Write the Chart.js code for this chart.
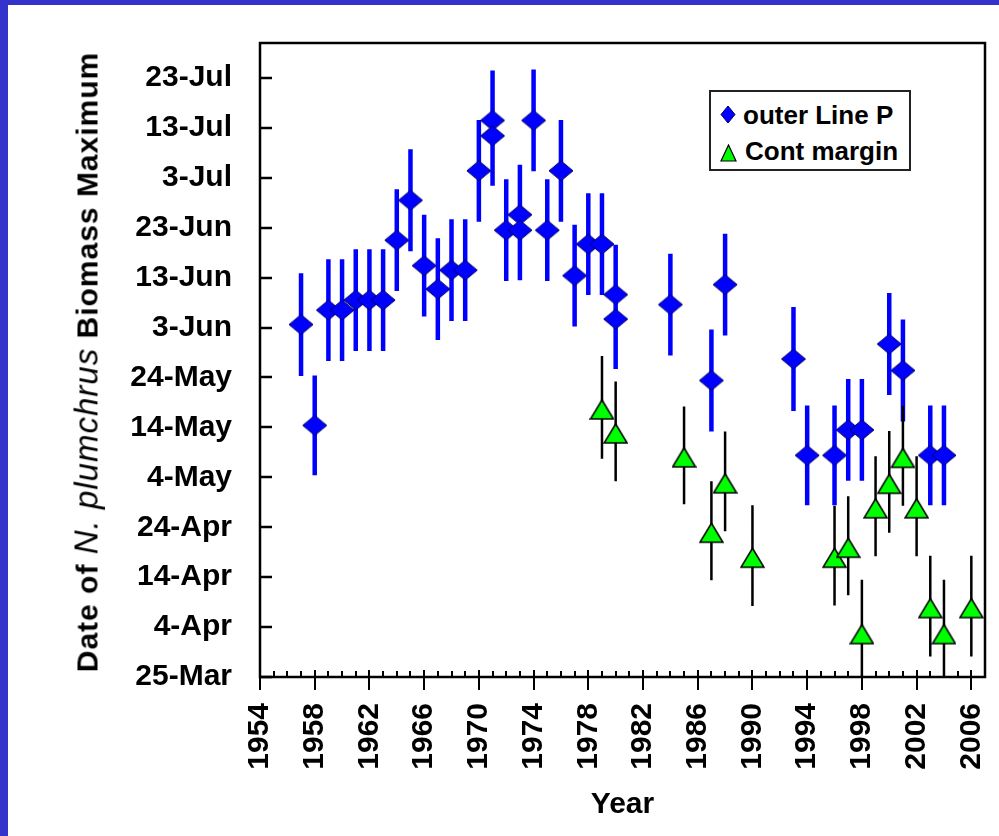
<!DOCTYPE html>
<html>
<head>
<meta charset="utf-8">
<script src="https://cdn.jsdelivr.net/npm/chart.js@4/dist/chart.umd.min.js"></script>
<style>
  body { margin: 0; background: #3434cc; width: 999px; height: 836px; overflow: hidden; }
  #panel { position: absolute; left: 8px; top: 5px; width: 991px; height: 831px; background: #fff; }
  #wrap { position: absolute; left: 0; top: 0; width: 991px; height: 831px; }
  #ytitle {
    position: absolute; left: 79px; top: 357px;
    transform: translate(-50%, -50%) rotate(-90deg);
    white-space: nowrap; font-family: "Liberation Sans", Arial, sans-serif;
    font-size: 30px; line-height: 30px; font-weight: bold; letter-spacing: 1px; color: #000;
  }
  #ytitle i { font-weight: normal; font-size: 33px; }
  #legend {
    position: absolute; left: 701px; top: 85px; width: 202px; height: 81px;
    box-sizing: border-box; border: 2px solid #222; background: #fff;
    font-family: "Liberation Sans", Arial, sans-serif; font-weight: bold; font-size: 26px; line-height: 26px;
  }
  #legend svg, #legend span { position: absolute; }
</style>
</head>
<body>
<div id="panel">
  <div id="wrap"><canvas id="chart"></canvas></div>
  <div id="ytitle">Date of <i>N. plumchrus</i> Biomass Maximum</div>
  <div id="legend">
    <svg style="left:9px;top:13px" width="16" height="19"><polygon points="8,1 15,9.5 8,18 1,9.5" fill="#0000ff" stroke="#000060"/></svg>
    <span style="left:32px;top:10px">outer Line P</span>
    <svg style="left:9px;top:52px" width="17" height="18"><polygon points="8.5,1 16,17 1,17" fill="#00ff00" stroke="#000" stroke-width="1.2"/></svg>
    <span style="left:34px;top:46px">Cont margin</span>
  </div>
</div>
<script>
// Date of biomass maximum as day of year (25-Mar = 84), error = +/- days
const linePYears = [1957, 1958, 1959, 1960, 1961, 1962, 1963, 1964, 1965, 1966, 1967, 1968, 1969,
  1970, 1971, 1971, 1972, 1973, 1973, 1974, 1975, 1976, 1977, 1978, 1979, 1980, 1980,
  1984, 1987, 1988, 1993, 1994, 1996, 1997, 1998, 2000, 2001, 2003, 2004];
const linePDays = [154.6, 134.4, 157.5, 157.5, 159.5, 159.5, 159.5, 171.5, 179.5, 166.4, 161.7, 165.5, 165.5,
  185.4, 195.5, 192.4, 173.5, 176.6, 173.5, 195.5, 173.5, 185.4, 164.4, 170.7, 170.7, 160.6, 155.7,
  158.6, 143.4, 162.6, 147.7, 128.4, 128.4, 133.5, 133.5, 150.7, 145.4, 128.4, 128.4];
const linePErr = [10.3, 10.0, 10.2, 10.2, 10.2, 10.2, 10.2, 10.2, 10.2, 10.2, 10.2, 10.2, 10.2,
  10.2, 10.0, 10.0, 10.2, 10.0, 10.0, 10.2, 10.2, 10.2, 10.2, 10.2, 10.2, 10.0, 10.0,
  10.2, 10.2, 10.2, 10.4, 10.0, 10.0, 10.2, 10.2, 10.2, 10.2, 10.0, 10.0];

const contYears = [1979, 1980, 1985, 1987, 1988, 1990, 1996, 1997, 1998, 1999, 2000, 2001, 2002, 2003, 2004, 2006];
const contDays = [138.0, 133.2, 128.4, 113.3, 123.2, 108.3, 108.3, 110.3, 93.0, 118.2, 123.1, 128.3, 118.2, 98.2, 93.0, 98.2];
const contErr = [10.3, 10.0, 9.8, 9.9, 10.0, 10.1, 10.0, 9.9, 10.5, 10.0, 10.2, 10.0, 10.0, 10.1, 10.5, 10.1];

const dateTickDays = [84, 94, 104, 114, 124, 134, 144, 154, 164, 174, 184, 194, 204];
const dateTickLabels = ['25-Mar', '4-Apr', '14-Apr', '24-Apr', '4-May', '14-May', '24-May',
  '3-Jun', '13-Jun', '23-Jun', '3-Jul', '13-Jul', '23-Jul'];
const yearTickLabels = [1954, 1958, 1962, 1966, 1970, 1974, 1978, 1982, 1986, 1990, 1994, 1998, 2002, 2006];

function points(xs, ys) {
  return xs.map((x, i) => ({ x, y: ys[i] }));
}

// vertical bars: low/high pairs separated by a gap
function errorSegments(xs, ys, errs) {
  const pts = [];
  xs.forEach((x, i) => {
    pts.push({ x, y: ys[i] - errs[i] }, { x, y: ys[i] + errs[i] }, { x, y: null });
  });
  return pts;
}

function diamondMarker(w, h) {
  const c = document.createElement('canvas');
  c.width = w + 2; c.height = h + 2;
  const g = c.getContext('2d');
  g.beginPath();
  g.moveTo(c.width / 2, 1);
  g.lineTo(c.width - 1, c.height / 2);
  g.lineTo(c.width / 2, c.height - 1);
  g.lineTo(1, c.height / 2);
  g.closePath();
  g.fillStyle = '#0000ff';
  g.fill();
  g.strokeStyle = '#000060';
  g.lineWidth = 1;
  g.stroke();
  return c;
}

// triangle sits a little low in its box so the bar runs through its middle
function triangleMarker(w, h) {
  const c = document.createElement('canvas');
  c.width = w + 2; c.height = h + 8;
  const g = c.getContext('2d');
  const top = 6, bottom = 6 + h;
  g.beginPath();
  g.moveTo(c.width / 2, top);
  g.lineTo(c.width - 1, bottom);
  g.lineTo(1, bottom);
  g.closePath();
  g.fillStyle = '#00ff00';
  g.fill();
  g.strokeStyle = '#000';
  g.lineWidth = 1.5;
  g.stroke();
  return c;
}

// plot frame plus inside tick marks
const frameTicks = {
  id: 'frameTicks',
  afterDraw(chart) {
    const { ctx, chartArea: a, scales: { x, y } } = chart;
    ctx.save();
    ctx.strokeStyle = '#000';
    ctx.lineWidth = 2.5;
    ctx.beginPath();
    y.ticks.forEach(t => {
      const py = Math.round(y.getPixelForValue(t.value));
      ctx.moveTo(a.left, py);
      ctx.lineTo(a.left + 12, py);
    });
    ctx.stroke();
    ctx.lineWidth = 2;
    ctx.beginPath();
    x.ticks.forEach(t => {
      const px = Math.round(x.getPixelForValue(t.value));
      if (yearTickLabels.includes(t.value)) {
        ctx.moveTo(px, a.bottom - 7);
        ctx.lineTo(px, a.bottom + 13);
      } else {
        ctx.moveTo(px, a.bottom - 6);
        ctx.lineTo(px, a.bottom);
      }
    });
    ctx.stroke();
    ctx.lineWidth = 2.5;
    ctx.strokeRect(a.left, a.top, a.right - a.left, a.bottom - a.top);
    ctx.restore();
  }
};

Chart.defaults.font.family = '"Liberation Sans", Arial, sans-serif';
Chart.defaults.color = '#000';

new Chart(document.getElementById('chart'), {
  type: 'scatter',
  data: {
    datasets: [
      {
        label: 'Cont margin',
        data: points(contYears, contDays),
        pointStyle: triangleMarker(23, 19),
        pointRadius: 12
      },
      {
        label: 'Cont margin error',
        data: errorSegments(contYears, contDays, contErr),
        showLine: true,
        borderColor: '#000',
        borderWidth: 2.5,
        pointRadius: 0,
        spanGaps: false
      },
      {
        label: 'outer Line P',
        data: points(linePYears, linePDays),
        pointStyle: diamondMarker(24, 20),
        pointRadius: 12
      },
      {
        label: 'outer Line P error',
        data: errorSegments(linePYears, linePDays, linePErr),
        showLine: true,
        borderColor: '#0000ff',
        borderWidth: 4.5,
        pointRadius: 0,
        spanGaps: false
      }
    ]
  },
  options: {
    responsive: true,
    maintainAspectRatio: false,
    animation: false,
    events: [],
    layout: { padding: { left: 0, top: 38, right: 14, bottom: 0 } },
    plugins: {
      legend: { display: false },
      tooltip: { enabled: false }
    },
    scales: {
      x: {
        type: 'linear',
        min: 1954,
        max: 2007,
        grid: { display: false, drawTicks: false },
        border: { display: false },
        ticks: {
          stepSize: 1,
          autoSkip: false,
          maxRotation: 90,
          minRotation: 90,
          padding: 26,
          font: { size: 30, weight: 'bold' },
          callback: v => yearTickLabels.includes(v) ? String(v) : ''
        },
        title: {
          display: true,
          text: 'Year',
          font: { size: 30, weight: 'bold' },
          padding: { top: 0, bottom: 13 }
        },
        afterFit: s => { s.height = 159; s.paddingLeft = 0; s.paddingRight = 0; }
      },
      y: {
        type: 'linear',
        min: 84,
        max: 211,
        grid: { display: false, drawTicks: false },
        border: { display: false },
        afterBuildTicks: s => { s.ticks = dateTickDays.map(value => ({ value })); },
        ticks: {
          padding: 28,
          font: { size: 30, weight: 'bold' },
          callback: (v, i) => dateTickLabels[i]
        },
        afterFit: s => { s.width = 252; s.paddingTop = 0; s.paddingBottom = 0; }
      }
    }
  },
  plugins: [frameTicks]
});
</script>
</body>
</html>
